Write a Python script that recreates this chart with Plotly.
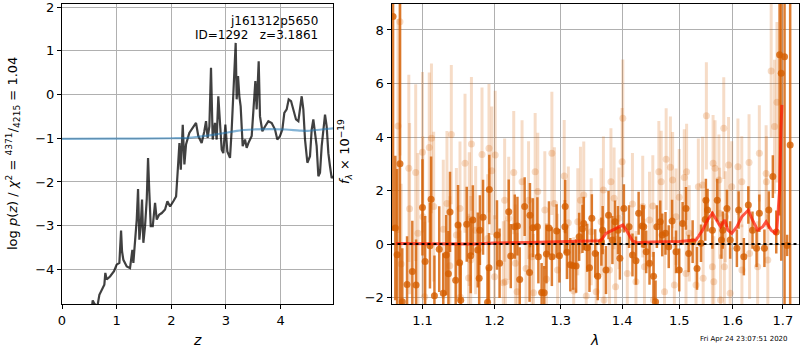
import math
import plotly.graph_objects as go

# ---------------- left panel: p(z) ----------------
pz_z = [0.54, 0.562, 0.59, 0.647, 0.684, 0.727, 0.775, 0.793, 0.818, 0.879, 0.952, 1.0, 1.05,
        1.081, 1.099, 1.123, 1.185, 1.245, 1.288, 1.306, 1.343, 1.368, 1.392, 1.416, 1.441,
        1.465, 1.489, 1.52, 1.551, 1.575, 1.599, 1.624, 1.661, 1.703, 1.734, 1.777, 1.826,
        1.886, 1.929, 1.978, 2.038, 2.088, 2.112, 2.149, 2.174, 2.21, 2.24, 2.27, 2.33,
        2.405, 2.453, 2.495, 2.556, 2.605, 2.636, 2.666, 2.697, 2.727, 2.758, 2.80, 2.831,
        2.861, 2.892, 2.923, 2.953, 2.990, 3.026, 3.075, 3.106, 3.136, 3.179, 3.197, 3.222,
        3.246, 3.27, 3.307, 3.35, 3.38, 3.411, 3.472, 3.514, 3.539, 3.563, 3.60, 3.624,
        3.667, 3.716, 3.777, 3.838, 3.899, 3.941, 3.99, 4.033, 4.069, 4.112, 4.149, 4.192,
        4.234, 4.283, 4.326, 4.356, 4.387, 4.417, 4.448, 4.491, 4.539, 4.57, 4.60, 4.631,
        4.661, 4.692, 4.722, 4.753, 4.783, 4.814, 4.844, 4.875, 4.905, 4.936, 4.967]
pz_logp = [-4.95, -4.71, -4.78, -4.85, -4.58, -4.46, -4.35, -4.08, -4.23, -4.16, -4.04, -3.89, -3.85,
           -3.11, -3.59, -3.78, -3.93, -3.97, -3.55, -3.85, -3.32, -2.86, -2.16, -3.32, -3.01,
           -2.40, -3.39, -3.01, -2.40, -1.45, -2.25, -3.01, -3.01, -2.48, -2.86, -2.75, -2.71,
           -2.63, -2.44, -2.56, -2.44, -2.33, -1.87, -1.11, -1.72, -0.69, -1.60, -1.14, -0.88,
           -0.73, -0.65, -0.95, -1.11, -0.84, -0.61, -0.99, -0.73, 0.61, -1.03, -0.65, -1.03,
           -0.04, -0.80, -1.26, -1.34, -0.69, -1.30, -1.45, -0.80, -0.11, 1.18, -0.11, 0.42,
           -0.04, -0.27, -1.18, -1.03, -1.22, -1.11, -0.95, -0.27, 0.31, -0.34, 0.76, -0.50,
           -0.84, -0.73, -0.61, -0.65, -0.80, -1.03, -0.95, -0.80, -0.42, -0.34, -0.11, -0.15,
           -0.34, -0.57, -0.61, -0.34, -0.04, -0.34, -1.03, -1.56, -1.41, -0.80, -0.57, -0.88,
           -1.18, -1.87, -1.79, -1.18, -0.88, -0.46, -0.73, -1.34, -1.64, -1.91, -1.87]

prior_z = [0.0, 1.0, 2.0, 2.3, 2.55, 2.8, 3.0, 3.2, 3.5, 3.8, 4.1, 4.35, 4.5, 4.75, 4.97]
prior_logp = [-1.015, -1.01, -1.0, -0.99, -0.955, -0.915, -0.875, -0.83, -0.8, -0.79, -0.8,
              -0.825, -0.83, -0.8, -0.775]

# ---------------- right panel: spectrum ----------------
dark_wave = [1.0616, 1.0645, 1.0668, 1.0705, 1.0735,
             1.0797, 1.0866, 1.0915, 1.1000, 1.1035, 1.1100, 1.1115, 1.1160, 1.1225, 1.1280,
             1.1320, 1.1350, 1.1372, 1.1450, 1.1483, 1.1505, 1.1520, 1.1604, 1.1660, 1.1690,
             1.1760, 1.1780, 1.1790, 1.1835, 1.1900, 1.1920, 1.1925,
             1.2036, 1.2074, 1.2208, 1.2238, 1.2297, 1.2337, 1.2371, 1.2445, 1.2519, 1.2525,
             1.2570, 1.2638, 1.2653, 1.2703, 1.2742, 1.2777, 1.2816, 1.2861, 1.2935, 1.2979,
             1.3065, 1.3070, 1.3097, 1.3151, 1.3195, 1.3243, 1.3292, 1.3345, 1.3366, 1.3422,
             1.3459, 1.3497, 1.3552, 1.3594, 1.3654,
             1.3675, 1.3730, 1.3772, 1.3837, 1.3881, 1.3930, 1.3962, 1.4030, 1.4118, 1.4176,
             1.4236, 1.4282, 1.4342, 1.4370, 1.4413, 1.4471, 1.4542, 1.4577, 1.4600, 1.4660,
             1.4695, 1.4753, 1.4811, 1.4871, 1.4942, 1.5000, 1.5061, 1.5123, 1.5171, 1.5245,
             1.5326, 1.5400, 1.5479, 1.5522,
             1.5491, 1.5613, 1.5705, 1.5786, 1.5810, 1.5890, 1.5952, 1.6082, 1.6116, 1.6218,
             1.6306, 1.6388, 1.6469, 1.6524, 1.6626, 1.6714, 1.6796, 1.6865, 1.6933, 1.6967,
             1.7035, 1.7088, 1.7151]
dark_flux = [8.5, 0.6, -0.4, 3.0, -2.16,
             -1.51, -1.03, -1.53, 1.37, -0.65, -0.06, 1.67, -1.93, -0.19, -1.84,
             -0.41, -1.11, 1.20, -1.35, 0.71, -0.70, -2.10, 0.74, -0.44, 0.90,
             -0.22, -1.28, 0.52, 1.00, -2.17, -0.89, 2.04,
             0.34, -0.72, 1.21, -0.45, 0.65, 0.67, -1.32, 1.40, -1.06, 1.08,
             0.61, 0.65, -0.47, -1.81, -1.82, -0.37, 0.60, -0.47, 0.49, -0.44,
             0.65, 1.40, -0.31, -0.77, -0.81, -0.82, 0.27, 0.57, 0.77, -0.14,
             -0.89, 0.96, -0.35, -1.20, 0.09,
             0.52, -0.97, 1.08, 0.15, 0.83, 0.52, -0.53, 1.33, 0.65, -0.41,
             -0.62, 1.15, 0.67, 0.65, -0.29, -0.72, -1.20, -2.16, 0.65, 0.83,
             0.34, 0.40, -0.10, 0.86, -0.29, -0.97, 0.77, 1.33, -0.35, 0.09,
             -0.91, 0.03, 0.92, 1.27,
             1.64, 0.52, 1.64, 0.15, 0.52, 1.33, 0.15, -0.16, 1.27, -0.47,
             1.46, 0.52, -0.16, 1.15, -0.16, 1.27, 2.52, 0.45, 7.07, 6.38,
             7.0, -0.05, 3.7]
dark_err = [8.0, 2.7, 3.2, 6.5, 2.0,
            1.8, 1.9, 1.7, 1.8, 1.7, 1.6, 1.6, 1.5, 1.6, 1.5,
            1.5, 1.6, 1.5, 1.4, 1.5, 1.5, 1.4, 1.4, 1.4, 1.3,
            1.4, 1.3, 1.3, 1.4, 1.3, 1.3, 1.3,
            1.3, 1.3, 1.2, 1.2, 1.2, 1.1, 1.2, 1.1, 1.1, 1.2,
            1.1, 1.1, 1.0, 1.1, 1.0, 1.1, 1.0, 1.1, 1.0, 1.0,
            1.0, 1.0, 1.0, 1.0, 0.9, 1.0, 0.9, 0.9, 1.0, 0.9,
            0.9, 0.9, 0.9, 0.9, 0.9,
            0.9, 0.9, 0.9, 0.9, 0.8, 0.9, 0.8, 0.9, 0.8, 0.8,
            0.9, 0.8, 0.8, 0.8, 0.8, 0.8, 0.9, 0.8, 0.8, 0.8,
            0.8, 0.8, 0.8, 0.8, 0.8, 0.8, 0.8, 0.8, 0.7, 0.8,
            0.8, 0.7, 0.8, 0.8,
            0.8, 0.7, 0.8, 0.7, 0.7, 0.7, 0.7, 0.7, 0.7, 0.7,
            0.7, 0.7, 0.7, 0.7, 0.7, 0.7, 0.8, 0.8, 6.0, 7.0,
            9.5, 0.4, 8.0]

light_wave = [1.0680, 1.0705, 1.0720, 1.0820, 1.0830, 1.0910, 1.0940, 1.1000, 1.1005, 1.1030,
              1.1090, 1.1120, 1.1150, 1.1280, 1.1330, 1.1370, 1.1390, 1.1460, 1.1510, 1.1515,
              1.1580, 1.1630, 1.1640, 1.1660, 1.1670, 1.1730, 1.1820, 1.1900, 1.1920, 1.1960,
              1.2000, 1.2010, 1.2129, 1.2148, 1.2159, 1.2208, 1.2282, 1.2307, 1.2332, 1.2406,
              1.2466, 1.2504, 1.2555, 1.2579, 1.2604, 1.2644, 1.2752, 1.2777, 1.2861, 1.2900,
              1.2950, 1.3054, 1.3119, 1.3205, 1.3270, 1.3313, 1.3366, 1.3406, 1.3487, 1.3568,
              1.3649, 1.3687, 1.3697, 1.3788, 1.3812, 1.3865, 1.3890, 1.3946, 1.4000, 1.4012,
              1.4088, 1.4176, 1.4236, 1.4353, 1.4383, 1.4471, 1.4529, 1.4540, 1.4635, 1.4677,
              1.4736, 1.4765, 1.4841, 1.4881, 1.4912, 1.4942, 1.5000, 1.5092, 1.5123, 1.5134,
              1.5183, 1.5307, 1.5350, 1.5429, 1.5440, 1.5500, 1.5613, 1.5626, 1.5640, 1.5663,
              1.5737, 1.5750, 1.5767, 1.5829, 1.5840, 1.5860, 1.5921, 1.5952, 1.5982, 1.6102,
              1.6177, 1.6180, 1.6320, 1.6330, 1.6490, 1.6524, 1.6660, 1.6665, 1.6694, 1.6762,
              1.6830, 1.6880]
light_flux = [4.41, 8.31, -0.75, 2.83, 1.32, 2.67, 0.40, 3.43, 1.02, -1.97,
              3.61, 3.95, 1.40, 0.55, 1.52, -0.81, 4.09, 0.34, 1.33, -1.99,
              3.02, -1.27, 0.93, -0.60, 3.74, 0.52, 3.35, 0.21, 3.58, 2.74,
              -1.22, 3.33, -1.45, 1.64, -1.41, 0.96, 2.67, -0.72, -1.78, 2.33,
              -0.91, 1.64, -0.47, -1.82, 2.70, 1.96, 1.27, -1.31, 3.39, 1.52,
              -0.97, 2.54, 0.80, -1.75, 0.83, 1.64, 1.83, -1.94, 0.46, -1.78,
              0.83, 2.02, -2.09, -0.97, 2.33, 1.71, -1.60, 0.96, 3.08, 4.70,
              -1.10, 1.50, -1.41, 1.40, -0.85, 0.90, 1.42, -2.09, 2.70, 2.33,
              -1.78, 3.17, 2.87, 2.39, -1.53, 1.02, 1.75, 2.49, -1.10, 2.70,
              0.40, -1.53, 2.14, 2.21, -1.28, 4.79, -0.85, 3.02, -1.41, 2.83,
              2.39, 1.15, -2.09, 4.33, -0.85, 1.02, 2.95, -1.84, 2.14, 2.89,
              2.33, -0.97, 3.05, -0.35, -0.85, 3.39, 2.64, 2.33, -0.60, 6.47,
              4.39, 5.30]
light_err = [4.0, 5.0, 3.0, 3.5, 3.2, 3.3, 3.0, 3.0, 3.0, 2.8,
             2.8, 2.8, 2.8, 2.6, 2.7, 2.6, 2.6, 2.5, 2.5, 2.5,
             2.6, 2.4, 2.5, 2.4, 2.5, 2.4, 2.5, 2.4, 2.4, 2.4,
             2.3, 2.4, 2.3, 2.3, 2.3, 2.3, 2.3, 2.2, 2.2, 2.3,
             2.2, 2.2, 2.2, 2.2, 2.2, 2.2, 2.2, 2.1, 2.3, 2.1,
             2.1, 2.1, 2.1, 2.0, 2.0, 2.0, 2.0, 2.0, 2.0, 2.0,
             2.0, 2.0, 1.9, 1.9, 2.0, 1.9, 1.9, 1.9, 2.0, 2.2,
             1.9, 1.9, 1.9, 1.9, 1.8, 1.8, 1.9, 1.8, 1.9, 1.9,
             1.8, 1.9, 1.9, 1.8, 1.8, 1.8, 1.8, 1.8, 1.8, 1.8,
             1.8, 1.8, 1.8, 1.8, 1.7, 2.0, 1.7, 1.8, 1.7, 1.8,
             1.7, 1.7, 1.7, 1.9, 1.7, 1.7, 1.8, 1.7, 1.7, 1.8,
             1.7, 1.7, 1.8, 1.7, 1.7, 1.8, 1.8, 1.7, 1.7, 2.5,
             2.5, 3.0]

model_wave = [1.065, 1.10, 1.15, 1.17, 1.19, 1.20, 1.25, 1.30, 1.35, 1.3642, 1.373, 1.3837,
              1.4012, 1.4088, 1.4176, 1.425, 1.45, 1.50, 1.5307, 1.5429, 1.5522, 1.5613,
              1.5705, 1.5767, 1.5847, 1.5908, 1.5982, 1.6082, 1.6177, 1.6306, 1.6388, 1.6490,
              1.6592, 1.6660, 1.6762, 1.6850, 1.6877, 1.6933, 1.6959, 1.6980]
model_flux = [0.02, 0.02, 0.02, 0.0, 0.03, 0.04, 0.06, 0.08, 0.10, 0.12, 0.40, 0.52,
              0.71, 0.46, 0.12, 0.05, 0.08, 0.10, 0.15, 0.52, 0.90, 1.15,
              0.83, 0.65, 0.90, 0.52, 0.40, 0.65, 1.02, 1.27, 0.90, 0.52,
              0.65, 0.83, 0.52, 0.40, 0.52, 2.02, 4.14, 5.2]

x1_ticks = [0, 1, 2, 3, 4]
y1_ticks = [-4, -3, -2, -1, 0, 1, 2]
x2_ticks = [1.1, 1.2, 1.3, 1.4, 1.5, 1.6, 1.7]
y2_ticks = [-2, 0, 2, 4, 6, 8]

# ---------------- figure ----------------
W, H = 800, 350
FONT = "DejaVu Sans"
GRID = "#b0b0b0"
ORANGE_D = "rgba(213,94,0,0.8)"
ORANGE_L = "rgba(213,94,0,0.22)"

fig = go.Figure()

fig.add_trace(go.Scatter(x=pz_z, y=pz_logp, mode="lines", xaxis="x", yaxis="y",
                         line=dict(color="rgba(0,0,0,0.75)", width=2.2), showlegend=False))
fig.add_trace(go.Scatter(x=prior_z, y=prior_logp, mode="lines", xaxis="x", yaxis="y",
                         line=dict(color="rgba(31,119,180,0.55)", width=2.2, shape="spline"),
                         showlegend=False))

fig.add_trace(go.Scatter(x=light_wave, y=light_flux, mode="markers", xaxis="x2", yaxis="y2",
                         marker=dict(color=ORANGE_L, size=7),
                         error_y=dict(type="data", array=light_err, color=ORANGE_L,
                                      thickness=3, width=0),
                         showlegend=False))
fig.add_trace(go.Scatter(x=dark_wave, y=dark_flux, mode="markers", xaxis="x2", yaxis="y2",
                         marker=dict(color=ORANGE_D, size=7),
                         error_y=dict(type="data", array=dark_err, color=ORANGE_D,
                                      thickness=2.5, width=0),
                         showlegend=False))
fig.add_trace(go.Scatter(x=model_wave, y=model_flux, mode="lines", xaxis="x2", yaxis="y2",
                         line=dict(color="rgba(255,20,0,0.7)", width=3), showlegend=False))

fig.add_shape(type="line", xref="x2 domain", yref="y2", x0=0, x1=1, y0=0, y1=0,
              line=dict(color="black", width=2, dash="dot"), layer="above")

axis_common = dict(showgrid=True, gridcolor=GRID, gridwidth=1, griddash="solid",
                   showline=True, mirror=True,
                   linecolor="black", linewidth=1, ticks="outside", ticklen=4,
                   tickcolor="black", tickwidth=1, zeroline=False, automargin=False,
                   ticklabeloverflow="allow", layer="above traces",
                   tickfont=dict(family=FONT, size=13, color="black"))

fig.update_layout(
    template="none",
    width=W, height=H, margin=dict(l=0, r=0, t=0, b=0, autoexpand=False),
    paper_bgcolor="white", plot_bgcolor="white",
    xaxis=dict(domain=[62 / W, 333 / W], range=[0, 4.96], tickmode="array",
               tickvals=x1_ticks, anchor="y", **axis_common),
    yaxis=dict(domain=[1 - 304 / H, 1 - 4 / H], range=[-4.79, 2.07], tickmode="array",
               tickvals=y1_ticks, anchor="x", **axis_common),
    xaxis2=dict(domain=[391.5 / W, 799 / W], type="log",
                range=[math.log10(1.0596), math.log10(1.7335)], tickmode="array",
                tickvals=x2_ticks, ticktext=[f"{t:.1f}" for t in x2_ticks],
                anchor="y2", **axis_common),
    yaxis2=dict(domain=[1 - 304 / H, 1 - 4 / H], range=[-2.24, 8.97], tickmode="array",
                tickvals=y2_ticks, anchor="x2", **axis_common),
)

def ann(text, x, y, size=13, angle=0, xanchor="center", yanchor="middle"):
    fig.add_annotation(text=text, x=x / W, y=1 - y / H, xref="paper", yref="paper",
                       showarrow=False, textangle=angle, xanchor=xanchor, yanchor=yanchor,
                       font=dict(family=FONT, size=size, color="black"))

ann("<i>z</i>", 197, 340, size=14)
ann("<i>λ</i>", 594, 340, size=14)
ann("log <i>p</i>(<i>z</i>) / <i>χ</i><sup>2</sup> = <sup>4371</sup>/<sub>4215</sub> = 1.04",
    13, 154, size=13, angle=-90)
ann("<i>f</i><sub><i>λ</i></sub> × 10<sup>−19</sup>", 345, 152, size=13, angle=-90)
ann("j161312p5650", 320, 21, size=12, xanchor="right")
ann("ID=1292   z=3.1861", 320, 35, size=12, xanchor="right")
ann("Fri Apr 24 23:07:51 2020", 744, 339, size=7)

fig.write_html("out.html")
